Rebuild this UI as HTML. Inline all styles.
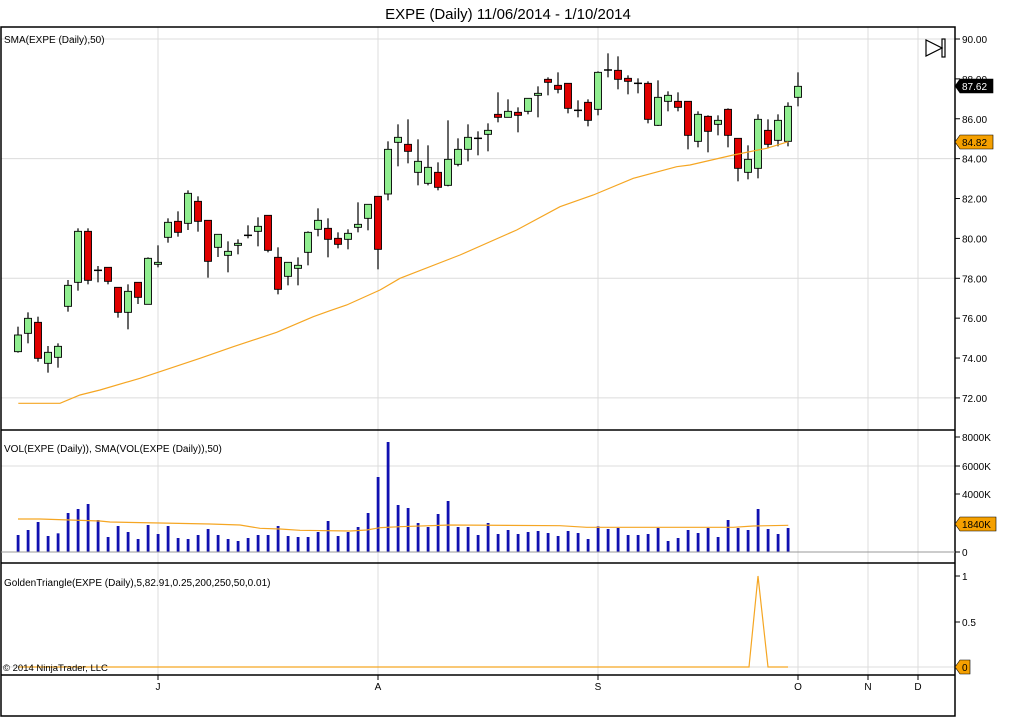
<!DOCTYPE html>
<html><head><meta charset="utf-8"><style>
html,body{margin:0;padding:0;background:#fff;}
svg{display:block;font-family:"Liberation Sans",Arial,sans-serif;}
</style></head><body>
<svg id="s" width="1016" height="720" viewBox="0 0 1016 720" xmlns="http://www.w3.org/2000/svg">
<rect width="1016" height="720" fill="#fff"/>
<text x="508" y="19" font-size="15" text-anchor="middle" fill="#000">EXPE (Daily)  11/06/2014 - 1/10/2014</text>
<g id="grid" stroke="#dcdcdc" stroke-width="1"></g>
<g id="content"></g>
<g stroke="#000" stroke-width="1.5" fill="none">
<rect x="1" y="27" width="954" height="689"/>
<line x1="1" y1="430" x2="955" y2="430"/>
<line x1="1" y1="563" x2="955" y2="563"/>
<line x1="1" y1="675" x2="955" y2="675"/>
</g>
<line x1="1" y1="552" x2="955" y2="552" stroke="#999" stroke-width="1"/>
<g font-size="10" fill="#000">
<text x="4" y="43">SMA(EXPE (Daily),50)</text>
<text x="4" y="452">VOL(EXPE (Daily)), SMA(VOL(EXPE (Daily)),50)</text>
<text x="4" y="586">GoldenTriangle(EXPE (Daily),5,82.91,0.25,200,250,50,0.01)</text>
<text x="3" y="671" font-size="9.5">© 2014 NinjaTrader, LLC</text>
</g>
<g fill="none" stroke="#000" stroke-width="1.2">
<polygon points="926,40 926,56 942,48"/>
<rect x="942" y="39" width="3" height="18"/>
</g>
<g id="axes" font-size="10" fill="#000"></g>
</svg>
<script>
var NS="http://www.w3.org/2000/svg";
function el(p,t,a,txt){var e=document.createElementNS(NS,t);for(var k in a)e.setAttribute(k,a[k]);if(txt!=null)e.textContent=txt;p.appendChild(e);return e;}
var G=document.getElementById('grid'),C=document.getElementById('content'),A=document.getElementById('axes');
function py(p){return 39+(90-p)*19.94;}
[72,78,84,90].forEach(function(p){el(G,'line',{x1:1,y1:py(p),x2:955,y2:py(p)});});
el(G,'line',{x1:1,y1:466,x2:955,y2:466});
el(G,'line',{x1:1,y1:667,x2:955,y2:667});
[158,378,598,798,868,918].forEach(function(x){el(G,'line',{x1:x,y1:27,x2:x,y2:675});});
for(var p=72;p<=90;p+=2){var y=py(p);el(A,'line',{x1:955,y1:y,x2:960,y2:y,stroke:'#000'});el(A,'text',{x:962,y:y+4},p.toFixed(2));}
[[437,'8000K'],[466,'6000K'],[494,'4000K'],[552,'0']].forEach(function(a){el(A,'line',{x1:955,y1:a[0],x2:960,y2:a[0],stroke:'#000'});el(A,'text',{x:962,y:a[0]+4},a[1]);});
[[576,'1'],[622,'0.5']].forEach(function(a){el(A,'line',{x1:955,y1:a[0],x2:960,y2:a[0],stroke:'#000'});el(A,'text',{x:962,y:a[0]+4},a[1]);});
[[158,'J'],[378,'A'],[598,'S'],[798,'O'],[868,'N'],[918,'D']].forEach(function(a){el(A,'line',{x1:a[0],y1:675,x2:a[0],y2:680,stroke:'#000'});el(A,'text',{x:a[0],y:690,'text-anchor':'middle'},a[1]);});
function tag(y,txt,bg,fg,w){el(A,'polygon',{points:(955)+','+y+' '+(960)+','+(y-7)+' '+(960+w)+','+(y-7)+' '+(960+w)+','+(y+7)+' '+960+','+(y+7),fill:bg,stroke:'#000','stroke-width':0.6});el(A,'text',{x:962,y:y+4,fill:fg},txt);}
tag(86,'87.62','#000','#fff',33);
tag(142,'84.82','#f5a000','#000',33);
el(A,'rect',{x:960,y:525,width:36,height:4,fill:'#00008b'});
tag(524,'1840K','#f5a000','#000',36);
tag(667,'0','#f5a000','#000',10);
var c1=[[945,995,920,998,'g'],[895,940,877,970,'g'],[907,1015,890,1025,'r'],[997,1030,978,1058,'g'],[979,1012,970,1043,'g'],[796,859,780,875,'g'],[634,787,625,812,'g'],[634,781,625,793,'r'],[751,753,738,787,'d'],[742,784,742,793,'r'],[802,877,802,893,'r'],[814,877,793,928,'g'],[787,832,787,852,'r'],[715,853,712,853,'g'],[727,733,676,742,'g'],[607,652,595,668,'g'],[604,637,574,650,'r'],[520,610,511,630,'g'],[544,604,529,635,'r'],[601,724,601,773,'r'],[643,682,643,711,'g'],[694,706,664,757,'g'],[670,676,658,703,'g'],[646,648,616,655,'d'],[619,634,592,679,'g'],[586,691,586,697,'r'],[712,808,682,823,'r'],[727,769,727,796,'g'],[736,745,712,796,'g'],[637,697,634,736,'g'],[601,628,565,649,'g'],[625,658,595,712,'r'],[655,673,637,685,'r'],[640,658,628,688,'g'],[613,622,547,637,'g'],[553,595,553,631,'g'],[529,688,529,748,'r'],[388,522,364,541,'g'],[352,367,313,439,'g']];
var c2=[[373,394,298,430,'r'],[424,457,358,496,'g'],[442,490,376,496,'g'],[457,502,427,511,'r'],[418,496,301,499,'g'],[388,433,355,439,'g'],[352,388,313,424,'g'],[355,358,334,406,'d'],[331,343,310,394,'g'],[283,292,217,307,'r'],[274,292,238,292,'g'],[277,286,262,337,'r'],[235,274,235,283,'g'],[220,226,199,292,'g'],[178,187,172,226,'r'],[196,208,157,220,'r'],[190,265,190,280,'r'],[271,273,241,292,'d'],[247,301,238,319,'r'],[157,268,154,286,'g'],[150,151,100,172,'d'],[151,178,109,208,'r'],[175,184,166,223,'r'],[190,191,175,220,'d'],[190,298,184,310,'r'],[232,316,181,318,'g'],[226,244,214,274,'g'],[244,262,217,274,'r'],[244,346,244,388,'r'],[283,364,274,382,'g'],[289,334,286,397,'r'],[301,313,286,346,'g'],[268,346,265,382,'r'],[355,445,355,484,'r'],[418,457,376,478,'g'],[298,445,283,475,'g'],[331,373,298,385,'r'],[301,361,283,379,'g'],[259,364,247,379,'g'],[199,232,157,259,'g']];
var all=c1.concat(c2);
all.forEach(function(c,i){var x=18+10*i;var t=20+c[0]/3,b=20+c[1]/3,h=20+c[2]/3,l=20+c[3]/3;
el(C,'line',{x1:x,y1:h,x2:x,y2:l,stroke:'#000','stroke-width':1.2});
if(c[4]=='d'){el(C,'line',{x1:x-4,y1:t,x2:x+4,y2:t,stroke:'#000','stroke-width':1.5});}
else el(C,'rect',{x:x-3.5,y:t,width:7,height:Math.max(b-t,1.5),fill:c[4]=='g'?'#90ee90':'#e00000',stroke:'#000','stroke-width':0.9});});
function pts(arr,ox,oy){return arr.map(function(p){return (ox+p[0]/3).toFixed(1)+','+(oy+p[1]/3).toFixed(1);}).join(' ');}
var s1=pts([[55,1150],[180,1150],[240,1125],[300,1110],[420,1075],[600,1015],[700,980],[830,937],[940,890],[990,872],[1040,855],[1140,810],[1200,775]],0,20);
var s2=pts([[180,705],[350,630],[480,560],[580,525],[700,475],[830,440],[870,435],[1000,405],[1100,385],[1165,365]],400,20);
el(C,'polyline',{points:s1+' '+s2,fill:'none',stroke:'#f5a623','stroke-width':1.2});
var v1=[315,300,276,318,310,249,237,222,270,321,288,306,327,285,312,288,324,327,315,297,315,327,333,324,315,315,288,318,321,321,306,273,318,306,291,249,141,36,225];
var v2=[234,279,291,252,213,291,291,315,279,312,300,312,306,303,309,318,303,309,327,289,297,294,315,315,312,294,333,324,300,309,294,321,270,294,300,237,297,312,294];
v1.concat(v2).forEach(function(v,i){var x=18+10*i;var t=430+v/3;el(C,'rect',{x:x-1.3,y:t,width:2.8,height:552-t,fill:'#1010b0'});});
var vs1=pts([[54,267],[120,267],[300,273],[330,276],[480,279],[630,282],[720,285],[780,295],[840,297],[900,301],[1050,303],[1100,300],[1140,293],[1200,290]],0,430);
var vs2=pts([[150,285],[480,287],[560,292],[1000,292],[1060,288],[1165,286]],400,430);
el(C,'polyline',{points:vs1+' '+vs2,fill:'none',stroke:'#f5a623','stroke-width':1.2});
el(C,'polyline',{points:'18,667 749,667 758,576 768,667 788,667',fill:'none',stroke:'#f5a623','stroke-width':1.2});
</script>
</body></html>
